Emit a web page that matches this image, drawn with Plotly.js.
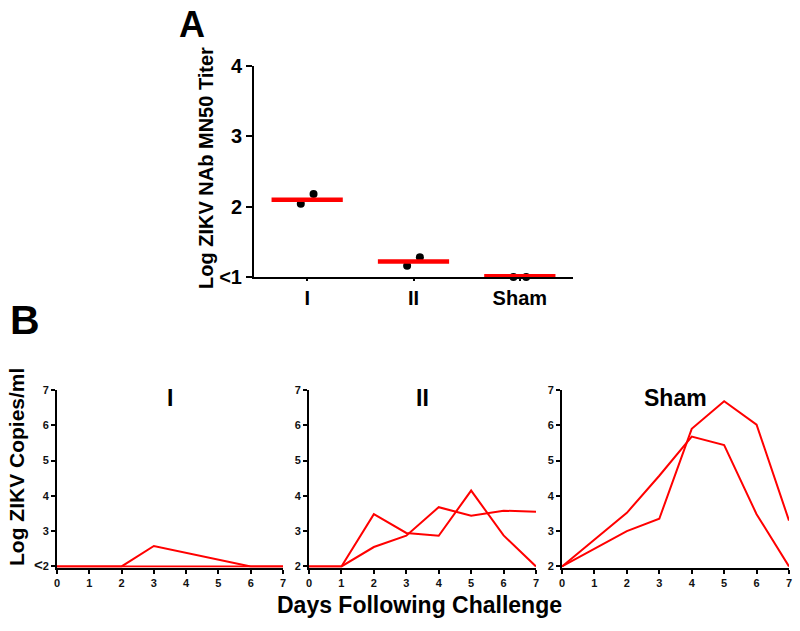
<!DOCTYPE html>
<html>
<head>
<meta charset="utf-8">
<script src="https://cdn.plot.ly/plotly-3.0.1.min.js"></script>
<style>html,body{margin:0;padding:0;background:#fff;}#chart{width:800px;height:631px;}</style>
</head>
<body>
<div id="chart"></div>
<script>
// ---------- Panel A data ----------
const groupsA = ['I', 'II', 'Sham'];
const groupIndexA = [0, 1, 2];
const nabAnimal1 = [2.04, 1.16, 1.00];
const nabAnimal2 = [2.18, 1.28, 1.00];
const nabMeans = [2.10, 1.22, 1.01];
const yTickValsA = [1, 2, 3, 4];
const yTickTextA = ['&lt;1', '2', '3', '4'];

// ---------- Panel B data ----------
const days = [0, 1, 2, 3, 4, 5, 6, 7];
const groupI_animal1 = [2, 2, 2, 2, 2, 2, 2, 2];
const groupI_animal2 = [2, 2, 2, 2.58, 2.38, 2.19, 2, 2];
const groupII_animal1 = [2, 2, 3.48, 2.95, 2.87, 4.15, 2.88, 2.0];
const groupII_animal2 = [2, 2, 2.55, 2.87, 3.68, 3.44, 3.58, 3.55];
const sham_animal1 = [2, 2.5, 3.0, 3.35, 5.9, 6.68, 6.02, 3.3];
const sham_animal2 = [2, 2.77, 3.52, 4.57, 5.68, 5.44, 3.48, 2.0];
const panelBTitles = ['I', 'II', 'Sham'];
const yTickValsB = [2, 3, 4, 5, 6, 7];
const yTickTextB1 = ['<span style="font-size:15px">&lt;</span>2', '3', '4', '5', '6', '7'];
const yTickTextB = ['2', '3', '4', '5', '6', '7'];

// ---------- styling ----------
const FONT = 'Arial, "Liberation Sans", sans-serif';
const RED = '#ff0000';
const W = 800, H = 631;
const px = v => v / W;
const py = v => 1 - v / H;
const dotOffset = 0.06;
const meanHalf = 0.335;

const traces = [];
// Panel A dots
traces.push({
  x: groupIndexA.map(i => i - dotOffset).concat(groupIndexA.map(i => i + dotOffset)),
  y: nabAnimal1.concat(nabAnimal2),
  xaxis: 'x', yaxis: 'y', mode: 'markers', cliponaxis: false,
  marker: {color: '#000', size: 8}, hoverinfo: 'skip'
});
// Panel A mean bars
groupIndexA.forEach((g, i) => {
  traces.push({
    x: [g - meanHalf, g + meanHalf], y: [nabMeans[i], nabMeans[i]],
    xaxis: 'x', yaxis: 'y', mode: 'lines',
    line: {color: RED, width: 4.5}, hoverinfo: 'skip'
  });
});
// Panel B lines
const bSeries = [
  [groupI_animal1, groupI_animal2],
  [groupII_animal1, groupII_animal2],
  [sham_animal1, sham_animal2]
];
bSeries.forEach((pair, k) => {
  pair.forEach(vals => {
    traces.push({
      x: days, y: vals, xaxis: 'x' + (k + 2), yaxis: 'y' + (k + 2),
      mode: 'lines', line: {color: RED, width: 2}, hoverinfo: 'skip'
    });
  });
});

const axA = {
  showline: true, linewidth: 2, linecolor: '#000', showgrid: false, zeroline: false,
  ticks: 'outside', tickwidth: 2, tickcolor: '#000', fixedrange: true,
  tickfont: {family: FONT, size: 20, color: '#000', weight: 'bold'}
};
const axB = {
  showline: true, linewidth: 2, linecolor: '#000', showgrid: false, zeroline: false,
  ticks: 'outside', ticklen: 4, tickwidth: 2, tickcolor: '#000', fixedrange: true,
  layer: 'below traces',
  tickfont: {family: FONT, size: 11, color: '#111', weight: 'bold'}
};

const bDomainsX = [[57, 283], [309, 536], [562, 789]];
const bDomainY = [py(567.5), py(390)];

const layout = {
  width: W, height: H,
  margin: {l: 0, r: 0, t: 0, b: 0},
  paper_bgcolor: '#fff', plot_bgcolor: 'rgba(0,0,0,0)',
  showlegend: false,
  xaxis: Object.assign({}, axA, {
    domain: [px(254), px(573)], range: [-0.5, 2.5], anchor: 'y',
    tickvals: groupIndexA, ticktext: groupsA, ticklen: 2
  }),
  yaxis: Object.assign({}, axA, {
    domain: [py(277), py(66)], range: [1, 4], anchor: 'x',
    tickvals: yTickValsA, ticktext: yTickTextA, ticklen: 6
  }),
  annotations: [
    {text: 'A', x: px(192), y: py(24.5), xref: 'paper', yref: 'paper', showarrow: false,
     xanchor: 'center', yanchor: 'middle', font: {family: FONT, size: 36, color: '#000', weight: 'bold'}},
    {text: 'B', x: px(25), y: py(320), xref: 'paper', yref: 'paper', showarrow: false,
     xanchor: 'center', yanchor: 'middle', font: {family: FONT, size: 41, color: '#000', weight: 'bold'}},
    {text: 'Log ZIKV NAb MN50 Titer', x: px(206), y: py(168), xref: 'paper', yref: 'paper', showarrow: false,
     textangle: -90, xanchor: 'center', yanchor: 'middle', font: {family: FONT, size: 20, color: '#000', weight: 'bold'}},
    {text: 'Log ZIKV Copies/ml', x: px(17), y: py(467), xref: 'paper', yref: 'paper', showarrow: false,
     textangle: -90, xanchor: 'center', yanchor: 'middle', font: {family: FONT, size: 21, color: '#000', weight: 'bold'}},
    {text: 'Days Following Challenge', x: px(419), y: py(605), xref: 'paper', yref: 'paper', showarrow: false,
     xanchor: 'center', yanchor: 'middle', font: {family: FONT, size: 23, color: '#000', weight: 'bold'}}
  ]
};

bDomainsX.forEach((d, k) => {
  const n = k + 2;
  layout['xaxis' + n] = Object.assign({}, axB, {
    domain: [px(d[0]), px(d[1])], range: [0, 7], anchor: 'y' + n,
    tickvals: days, ticktext: days.map(String)
  });
  layout['yaxis' + n] = Object.assign({}, axB, {
    domain: bDomainY, range: [1.97, 7], anchor: 'x' + n,
    tickvals: yTickValsB, ticktext: k === 0 ? yTickTextB1 : yTickTextB
  });
  layout.annotations.push({
    text: panelBTitles[k], x: px((d[0] + d[1]) / 2), y: py(397.5), xref: 'paper', yref: 'paper',
    showarrow: false, xanchor: 'center', yanchor: 'middle',
    font: {family: FONT, size: 23, color: '#000', weight: 'bold'}
  });
});

Plotly.newPlot('chart', traces, layout, {staticPlot: true, displayModeBar: false});
</script>
</body>
</html>
